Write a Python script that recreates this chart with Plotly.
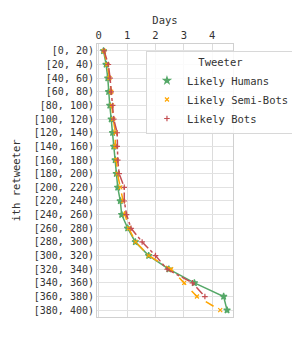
import plotly.graph_objects as go

bins = ["[0, 20)", "[20, 40)", "[40, 60)", "[60, 80)", "[80, 100)", "[100, 120)",
        "[120, 140)", "[140, 160)", "[160, 180)", "[180, 200)", "[200, 220)",
        "[220, 240)", "[240, 260)", "[260, 280)", "[280, 300)", "[300, 320)",
        "[320, 340)", "[340, 360)", "[360, 380)", "[380, 400)"]

humans = [0.17, 0.26, 0.32, 0.35, 0.39, 0.44, 0.49, 0.53, 0.58, 0.62, 0.67,
          0.76, 0.81, 1.02, 1.29, 1.76, 2.47, 3.37, 4.40, 4.52]
semibots = [0.18, 0.30, 0.38, 0.44, 0.46, 0.51, 0.59, 0.58, 0.62, 0.66, 0.76,
            0.86, 0.93, 1.06, 1.30, 1.76, 2.55, 3.01, 3.46, 4.28]
bots = [0.19, 0.34, 0.40, 0.44, 0.49, 0.53, 0.65, 0.65, 0.67, 0.72, 0.90,
        0.90, 0.98, 1.14, 1.53, 2.00, 2.41, 3.30, 3.74, None]

series = [
    ("Likely Humans", humans, "#55a868", "solid", "star", 5),
    ("Likely Semi-Bots", semibots, "#ffa500", "dash", "x-thin", 4),
    ("Likely Bots", bots, "#c44e52", "dashdot", "cross-thin", 4),
]

font = "DejaVu Sans Mono"
fig = go.Figure()
for name, vals, color, dash, sym, sz in series:
    fig.add_trace(go.Scatter(
        x=vals, y=bins, mode="lines+markers", name=name, showlegend=False,
        line=dict(color=color, width=1.5, dash=dash),
        marker=dict(symbol=sym, size=sz, color=color,
                    line=dict(color=color, width=1.2)),
        connectgaps=False,
    ))
for name, vals, color, dash, sym, sz in series:
    fig.add_trace(go.Scatter(
        x=[None], y=[None], mode="markers", name=name, showlegend=True,
        marker=dict(symbol=sym, size=sz, color=color,
                    line=dict(color=color, width=1.2)),
    ))

fig.update_layout(
    width=292, height=343,
    margin=dict(l=97, r=59, t=44, b=26, autoexpand=False),
    paper_bgcolor="white", plot_bgcolor="white",
    font=dict(family=font, size=10, color="#333333"),
    xaxis=dict(
        title=dict(text="Days", font=dict(size=10.5), standoff=2),
        side="top", range=[-0.06, 4.73], dtick=1, tick0=0,
        showgrid=True, gridcolor="#dcdcdc", gridwidth=1,
        showline=True, mirror=True, linecolor="#d0d0d0", linewidth=1,
        zeroline=False, ticks="", tickfont=dict(size=10.5), automargin=False,
    ),
    yaxis=dict(
        title=dict(text="ith retweeter", font=dict(size=10.5), standoff=11),
        type="category", categoryorder="array", categoryarray=bins,
        range=[19.5, -0.5],
        showgrid=True, gridcolor="#e2e2e2", gridwidth=1,
        showline=True, mirror=True, linecolor="#d0d0d0", linewidth=1,
        zeroline=False, ticks="", tickfont=dict(size=10), automargin=False,
    ),
    legend=dict(
        x=0.36, y=0.973, xanchor="left", yanchor="top",
        title=dict(text="Tweeter", side="top center", font=dict(size=10.5)),
        bgcolor="rgba(255,255,255,0.85)", bordercolor="#d8d8d8", borderwidth=1,
        font=dict(size=10.5), itemwidth=30, tracegroupgap=0,
    ),
    showlegend=True,
)

fig.write_html("out.html", post_script="document.body.style.margin='0';",
               config={"displayModeBar": False})
